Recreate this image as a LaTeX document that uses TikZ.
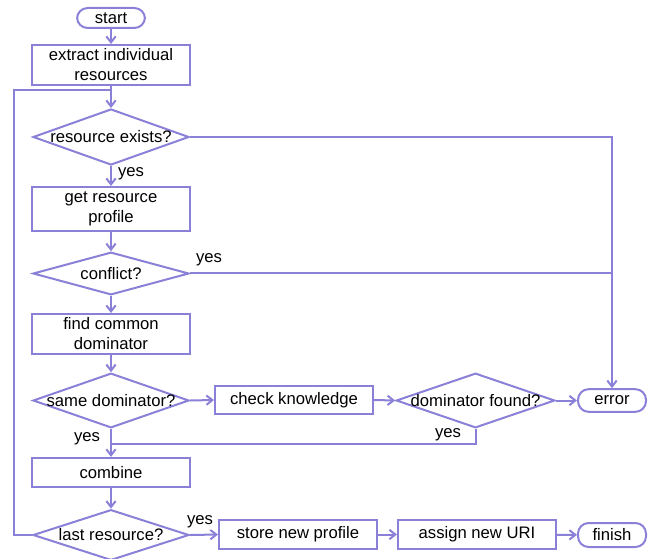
\documentclass[tikz,border=0pt]{standalone}
\usepackage{fontspec}
\setmainfont{Liberation Sans}
\usetikzlibrary{shapes.geometric,arrows.meta}
\definecolor{flow}{HTML}{8A80D8}

\tikzset{
  base/.style={draw=flow, line width=1.5pt, inner sep=0pt, align=center},
  box/.style={base, rectangle, minimum width=118.5pt, minimum height=30pt},
  terminal/.style={base, rectangle, rounded corners=8pt, minimum width=51pt, minimum height=16pt},
  decision/.style={base, diamond, minimum width=117pt, minimum height=42pt},
  flowline/.style={draw=flow, line width=1.5pt},
  flowarrow/.style={flowline, -{Straight Barb[length=4.5pt,width=7pt,line width=1.5pt]}},
  yeslabel/.style={inner sep=0pt}
}

\begin{document}
\begin{tikzpicture}[x=0.75pt, y=-0.75pt, font=\fontsize{12.5}{15}\selectfont]
  \useasboundingbox (0,0) rectangle (652,559);

  % main column
  \node[terminal, minimum height=15pt] (start) at (111,18) {start};
  \node[box] (extract) at (111,65) {extract individual\\resources};
  \node[decision, label=center:{resource exists?}] (exists) at (111,137) {};
  \node[box, minimum height=33pt] (profile) at (111,209) {get resource\\profile};
  \node[decision, minimum height=32pt, label=center:{conflict?}] (conflict) at (111,273.5) {};
  \node[box] (common) at (111,334) {find common\\dominator};
  \node[decision, minimum height=41pt, label=center:{same dominator?}] (same) at (111,400.5) {};
  \node[box, minimum height=22pt] (combine) at (111,472.5) {combine};
  \node[decision, minimum height=38pt, label=center:{last resource?}] (last) at (111,535) {};

  % side branch
  \node[box, minimum height=21pt] (check) at (294,400) {check knowledge};
  \node[decision, minimum width=119pt, minimum height=41pt, label=center:{dominator found?}] (found) at (475.5,400.5) {};
  \node[terminal, minimum height=17pt] (error) at (612,400.5) {error};

  % bottom row
  \node[box, minimum height=22pt] (store) at (298,534.5) {store new profile};
  \node[box, minimum height=22pt] (uri) at (477,534.5) {assign new URI};
  \node[terminal, minimum height=18pt] (finish) at (612,535) {finish};

  % junctions
  \coordinate (loopin) at (111,90);
  \coordinate (errcol) at (error.north |- exists.east);
  \coordinate (merge) at (111,444);
  \coordinate (loopbl) at (14,535);
  \coordinate (looptl) at (14,90);

  % vertical flow
  \draw[flowarrow] (start) -- (extract);
  \draw[flowarrow] (extract) -- (exists);
  \draw[flowarrow] (exists) -- (profile);
  \draw[flowarrow] (profile) -- (conflict);
  \draw[flowarrow] (conflict) -- (common);
  \draw[flowarrow] (common) -- (same);
  \draw[flowarrow] (same) -- (combine);
  \draw[flowarrow] (combine) -- (last);

  % error paths
  \draw[flowarrow] (exists.east) -- (errcol) -- (error.north);
  \draw[flowline] (conflict.east) -- (errcol |- conflict.east);

  % knowledge check
  \draw[flowarrow] (same.east) -- (check.west);
  \draw[flowarrow] (check.east) -- (found.west);
  \draw[flowarrow] (found.east) -- (error.west);
  \draw[flowline] (found.south) |- (merge);

  % loop back
  \draw[flowline] (last.west) -- (loopbl) -- (looptl) -- (loopin);

  % finishing
  \draw[flowarrow] (last.east) -- (store.west);
  \draw[flowarrow] (store) -- (uri);
  \draw[flowarrow] (uri) -- (finish);

  % labels
  \node[yeslabel] (y1) at (131,174) {yes};
  \node[yeslabel] (y2) at (209,260) {yes};
  \node[yeslabel] (y3) at (87,439) {yes};
  \node[yeslabel] (y4) at (448,435) {yes};
  \node[yeslabel] (y5) at (200,522) {yes};
\end{tikzpicture}
\end{document}
